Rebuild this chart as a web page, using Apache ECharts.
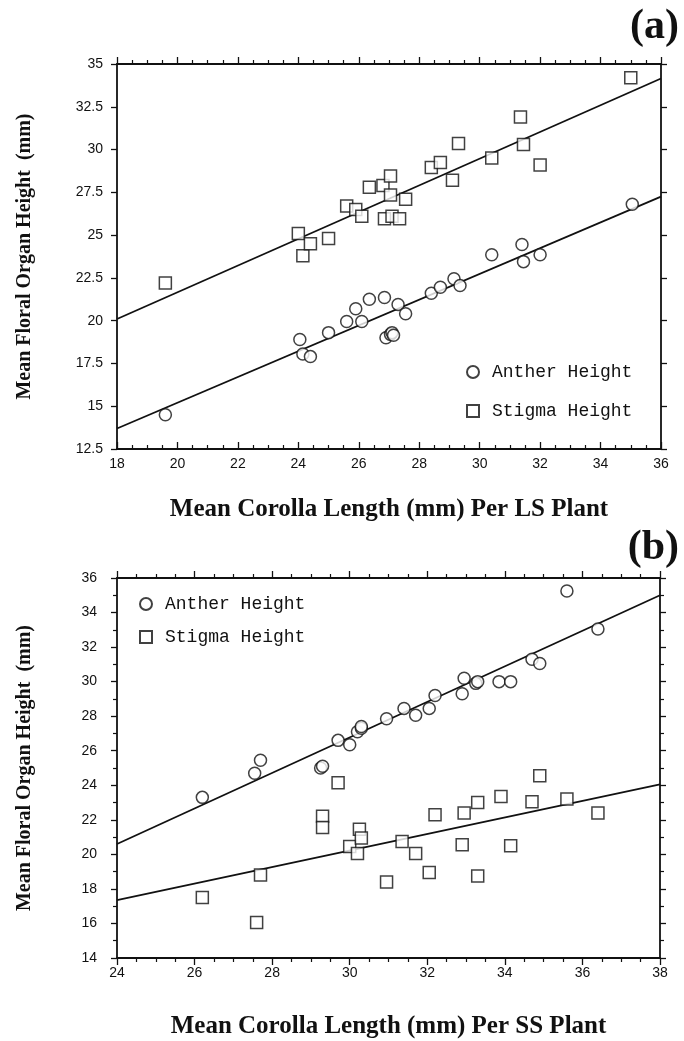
<!DOCTYPE html>
<html>
<head>
<meta charset="utf-8">
<script src="https://cdn.jsdelivr.net/npm/echarts@6/dist/echarts.min.js"></script>
<style>
  html, body { margin: 0; padding: 0; background: #fff; }
  #chart { width: 684px; height: 1041px; }
</style>
</head>
<body>
<div id="chart"></div>
<script>
// panel (a): LS plants
var lsAntherX = [19.6, 24.05, 24.15, 24.4, 25.0, 25.6, 25.9, 26.1, 26.35, 26.85, 27.3, 27.55, 26.9, 27.05, 27.1, 27.15, 28.4, 28.7, 29.15, 29.35, 30.4, 31.4, 31.45, 32.0, 35.05];
var lsAntherY = [14.5, 18.9, 18.05, 17.9, 19.3, 19.95, 20.7, 19.95, 21.25, 21.35, 20.95, 20.4, 19.0, 19.2, 19.3, 19.15, 21.6, 21.95, 22.45, 22.05, 23.85, 24.45, 23.45, 23.85, 26.8];
var lsStigmaX = [19.6, 24.0, 24.15, 24.4, 25.0, 25.6, 25.9, 26.1, 26.35, 26.8, 27.05, 27.05, 27.55, 26.85, 27.1, 27.35, 28.4, 28.7, 29.1, 29.3, 30.4, 31.35, 31.45, 32.0, 35.0];
var lsStigmaY = [22.2, 25.1, 23.8, 24.5, 24.8, 26.7, 26.5, 26.1, 27.8, 27.9, 28.45, 27.35, 27.1, 25.95, 26.1, 25.95, 28.95, 29.25, 28.2, 30.35, 29.5, 31.9, 30.3, 29.1, 34.2];
var lsAntherFit = [[18, 13.7], [36, 27.25]];
var lsStigmaFit = [[18, 20.1], [36, 34.15]];

// panel (b): SS plants
var ssAntherX = [26.2, 27.55, 27.7, 29.25, 29.3, 29.7, 30.0, 30.2, 30.3, 30.3, 30.95, 31.4, 31.7, 32.05, 32.2, 32.9, 32.95, 33.25, 33.3, 33.85, 34.15, 34.7, 34.9, 35.6, 36.4];
var ssAntherY = [23.3, 24.7, 25.45, 25.0, 25.1, 26.6, 26.35, 27.1, 27.3, 27.4, 27.85, 28.45, 28.05, 28.45, 29.2, 29.3, 30.2, 29.9, 30.0, 30.0, 30.0, 31.3, 31.05, 35.25, 33.05];
var ssStigmaX = [26.2, 27.6, 27.7, 29.3, 29.3, 29.7, 30.0, 30.2, 30.25, 30.3, 30.95, 31.35, 31.7, 32.05, 32.2, 32.9, 32.95, 33.3, 33.3, 33.9, 34.15, 34.7, 34.9, 35.6, 36.4];
var ssStigmaY = [17.5, 16.05, 18.8, 22.2, 21.55, 24.15, 20.45, 20.05, 21.45, 20.95, 18.4, 20.75, 20.05, 18.95, 22.3, 20.55, 22.4, 23.0, 18.75, 23.35, 20.5, 23.05, 24.55, 23.2, 22.4];
var ssAntherFit = [[24, 20.6], [38, 35.0]];
var ssStigmaFit = [[24, 17.35], [38, 24.05]];

function pairs(xs, ys) {
  return xs.map(function (x, i) { return [x, ys[i]]; });
}

var black = '#111';
var serif = '"Liberation Serif", "Times New Roman", serif';
var sans = '"Liberation Sans", Arial, sans-serif';
var mono = '"Liberation Mono", "Courier New", monospace';

function xAx(grid, min, max, pos, showLabel, name, inside, gap) {
  return {
    type: 'value', gridIndex: grid, min: min, max: max, interval: 2, position: pos,
    axisLine: { show: true, onZero: false, lineStyle: { color: black, width: 1.8 } },
    axisTick: { show: true, inside: inside, length: 7, lineStyle: { color: black, width: 1.3 } },
    minorTick: { show: true, splitNumber: 4, length: 4, lineStyle: { color: black, width: 1.2 } },
    axisLabel: { show: showLabel, color: black, fontFamily: sans, fontSize: 14, margin: 8 },
    splitLine: { show: false },
    name: name, nameLocation: 'middle', nameGap: gap,
    nameTextStyle: { fontFamily: serif, fontWeight: 'bold', fontSize: 25, color: black }
  };
}

function yAx(grid, min, max, interval, minorSplit, pos, showLabel, margin, name) {
  return {
    type: 'value', gridIndex: grid, min: min, max: max, interval: interval, position: pos,
    axisLine: { show: true, onZero: false, lineStyle: { color: black, width: 1.8 } },
    axisTick: { show: true, inside: false, length: 6, lineStyle: { color: black, width: 1.3 } },
    minorTick: { show: minorSplit > 1, splitNumber: minorSplit, length: 4, lineStyle: { color: black, width: 1.2 } },
    axisLabel: { show: showLabel, color: black, fontFamily: sans, fontSize: 14, margin: margin },
    splitLine: { show: false },
    name: name, nameLocation: 'middle', nameGap: 82, nameRotate: 90,
    nameTextStyle: { fontFamily: serif, fontWeight: 'bold', fontSize: 20, color: black }
  };
}

var circleStyle = { color: '#fff', borderColor: black, borderWidth: 1.5 };
var squareStyle = { color: '#fff', borderColor: black, borderWidth: 1.5 };

function scat(name, data, xi, yi, symbol, size, style) {
  return {
    name: name, type: 'scatter', xAxisIndex: xi, yAxisIndex: yi,
    symbol: symbol, symbolSize: size, itemStyle: style, data: data, z: 3
  };
}

function fit(data, xi, yi) {
  return {
    type: 'line', xAxisIndex: xi, yAxisIndex: yi, data: data, showSymbol: false,
    lineStyle: { color: black, width: 1.8 }, z: 2, silent: true
  };
}

var legendText = { fontFamily: mono, fontSize: 18, color: black, padding: [0, 0, 0, 8] };

var myChart = echarts.init(document.getElementById('chart'));

var option = {
  backgroundColor: '#fff',
  animation: false,
  grid: [
    { left: 117, right: 23, top: 64, height: 385 },
    { left: 117, right: 24, top: 578, height: 380 }
  ],
  xAxis: [
    xAx(0, 18, 36, 'bottom', true, 'Mean Corolla Length (mm) Per LS Plant', true, 48),
    xAx(0, 18, 36, 'top', false, '', false, 0),
    xAx(1, 24, 38, 'bottom', true, 'Mean Corolla Length (mm) Per SS Plant', false, 56),
    xAx(1, 24, 38, 'top', false, '', false, 0)
  ],
  yAxis: [
    yAx(0, 12.5, 35, 2.5, 0, 'left', true, 14, 'Mean Floral Organ Height  (mm)'),
    yAx(0, 12.5, 35, 2.5, 0, 'right', false, 8, ''),
    yAx(1, 14, 36, 2, 2, 'left', true, 20, 'Mean Floral Organ Height  (mm)'),
    yAx(1, 14, 36, 2, 2, 'right', false, 8, '')
  ],
  legend: [
    {
      left: 461, top: 358, orient: 'vertical', itemGap: 21, itemWidth: 12, itemHeight: 12,
      data: ['Anther Height', 'Stigma Height'], textStyle: legendText, selectedMode: false
    },
    {
      left: 134, top: 590, orient: 'vertical', itemGap: 15, itemWidth: 12, itemHeight: 12,
      data: ['Anther Height', 'Stigma Height'], textStyle: legendText, selectedMode: false
    }
  ],
  graphic: [
    { type: 'text', right: 5, top: 6, style: { text: '(a)', font: 'bold 42px ' + serif, fill: black } },
    { type: 'text', right: 5, top: 527, style: { text: '(b)', font: 'bold 42px ' + serif, fill: black } }
  ],
  series: [
    fit(lsAntherFit, 0, 0),
    fit(lsStigmaFit, 0, 0),
    scat('Anther Height', pairs(lsAntherX, lsAntherY), 0, 0, 'circle', 12, circleStyle),
    scat('Stigma Height', pairs(lsStigmaX, lsStigmaY), 0, 0, 'rect', 12, squareStyle),
    fit(ssAntherFit, 2, 2),
    fit(ssStigmaFit, 2, 2),
    scat('Anther Height', pairs(ssAntherX, ssAntherY), 2, 2, 'circle', 12, circleStyle),
    scat('Stigma Height', pairs(ssStigmaX, ssStigmaY), 2, 2, 'rect', 12, squareStyle)
  ]
};

myChart.setOption(option);
</script>
</body>
</html>
